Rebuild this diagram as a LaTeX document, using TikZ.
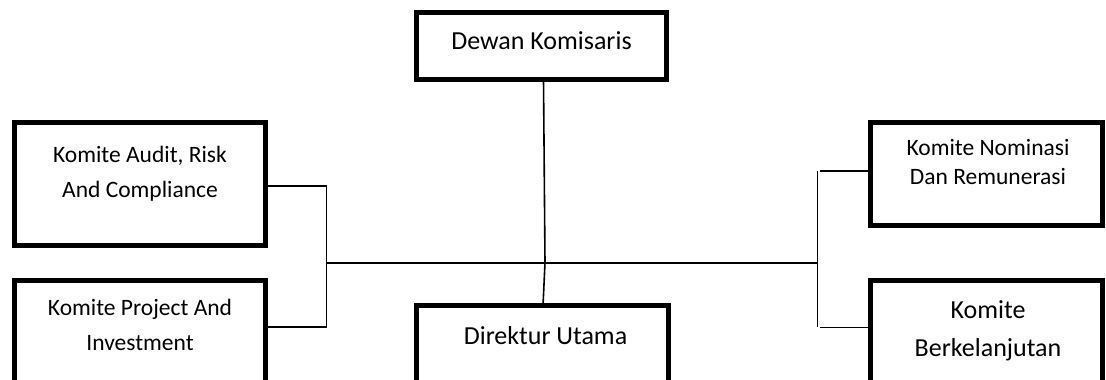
\documentclass[tikz,border=0pt]{standalone}
\usepackage{fontspec}
\setmainfont{Carlito}
\begin{document}
\begin{tikzpicture}[x=1pt,y=-1pt,
  orgbox/.style={draw=black,line width=5pt,rectangle,inner sep=0pt,outer sep=0pt,fill=white},
  link/.style={draw=black,line width=1.6pt},
  smalltxt/.style={anchor=base,inner sep=0pt,font=\fontsize{23.5}{28}\selectfont},
  bigtxt/.style={anchor=base,inner sep=0pt,font=\fontsize{26}{31}\selectfont}]
\useasboundingbox (0,0) rectangle (1106,380);
\clip (0,0) rectangle (1106,380);
\fill[white] (0,0) rectangle (1106,380);

% boxes
\node[orgbox,minimum width=249.5pt,minimum height=67pt] (dk) at (541.25,46) {};
\node[orgbox,minimum width=251.5pt,minimum height=123pt] (aud) at (139.75,184) {};
\node[orgbox,minimum width=251.5pt,minimum height=140pt] (proj) at (139.75,350.5) {};
\node[orgbox,minimum width=232.5pt,minimum height=103.5pt] (nom) at (986.25,173.75) {};
\node[orgbox,minimum width=232.5pt,minimum height=140pt] (berk) at (986.25,350.5) {};
\node[orgbox,minimum width=252pt,minimum height=140pt] (du) at (542.5,375.5) {};

% texts
\node[bigtxt] (dkt) at (541.5,49.3) {Dewan Komisaris};
\node[smalltxt] (aud1) at (140,162.7) {Komite Audit, Risk};
\node[smalltxt] (aud2) at (140,197.3) {And Compliance};
\node[smalltxt] (proj1) at (140,315) {Komite Project And};
\node[smalltxt] (proj2) at (140,350) {Investment};
\node[smalltxt] (nom1) at (988,155.5) {Komite Nominasi};
\node[smalltxt] (nom2) at (988,184.2) {Dan Remunerasi};
\node[bigtxt] (berk1) at (988,318.3) {Komite};
\node[bigtxt] (berk2) at (988,356.7) {Berkelanjutan};
\node[bigtxt] (dut) at (545.5,344) {Direktur Utama};

% junction points of the connecting lines
\coordinate (lt) at (326.5,186);
\coordinate (lb) at (326.5,327);
\coordinate (jl) at (326.5,263);
\coordinate (jc) at (545,263);
\coordinate (jr) at (817.5,263);
\coordinate (rt) at (817.5,171);
\coordinate (rb) at (817.5,327.3);
\coordinate (rts) at (820,171);
\coordinate (rbs) at (820,327.3);
\coordinate (dkb) at (543.5,79.5);
\coordinate (dut0) at (543,305.5);

% connectors
\draw[link] (aud.east |- lt) -- (lt) -- (lb) -- (proj.east |- lb);
\draw[link] (jl) -- (jr);
\draw[link] (rt) -- (rb);
\draw[link] (rts) -- (nom.west |- rts);
\draw[link] (rbs) -- (berk.west |- rbs);
\draw[link] (dkb) -- (jc);
\draw[link] (jc) -- (dut0);
\end{tikzpicture}
\end{document}
